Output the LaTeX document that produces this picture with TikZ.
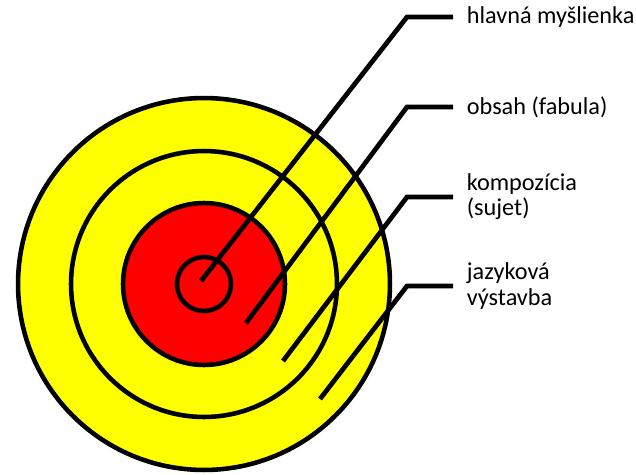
\documentclass[tikz,border=0pt]{standalone}
\usepackage{fontspec}
\setmainfont{Carlito}
\usetikzlibrary{positioning}
\definecolor{ringyellow}{RGB}{255,255,0}
\definecolor{ringred}{RGB}{255,0,0}

\begin{document}
\begin{tikzpicture}[x=0.02cm,y=-0.02cm,
		ring/.style={draw=black, line width=2.6pt},
		leader/.style={draw=black, line width=2.7pt, line join=miter},
		label/.style={anchor=west, inner xsep=0.27cm, inner ysep=0pt, align=left,
			font=\fontsize{13.8}{14.4}\selectfont}]
		\useasboundingbox (0,0) rectangle (636,474);

		\coordinate (c) at (204,284);
		\draw[ring, fill=ringyellow] (c) circle (3.72cm);
		\draw[ring] (c) circle (2.66cm);
		\draw[ring, fill=ringred] (c) circle (1.62cm);
		\draw[ring] (c) circle (0.54cm);

		\node[label] (idea) at (453,17) {hlavná myšlienka};
		\node[label] (obsah) at (453,107) {obsah (fabula)};
		\node[label] (komp) at (453,197) {kompozícia\\(sujet)};
		\node[label] (jazyk) at (453,286) {jazyková\\výstavba};

		\coordinate (t1) at (201,281);
		\coordinate (t2) at (246,323);
		\coordinate (t3) at (283,361);
		\coordinate (t4) at (320,399);

		\draw[leader] (t1) -- (407,17) -- (idea.west);
		\draw[leader] (t2) -- (407,107) -- (obsah.west);
		\draw[leader] (t3) -- (407,197) -- (komp.west);
		\draw[leader] (t4) -- (407,286) -- (jazyk.west);
	\end{tikzpicture}
\end{document}
